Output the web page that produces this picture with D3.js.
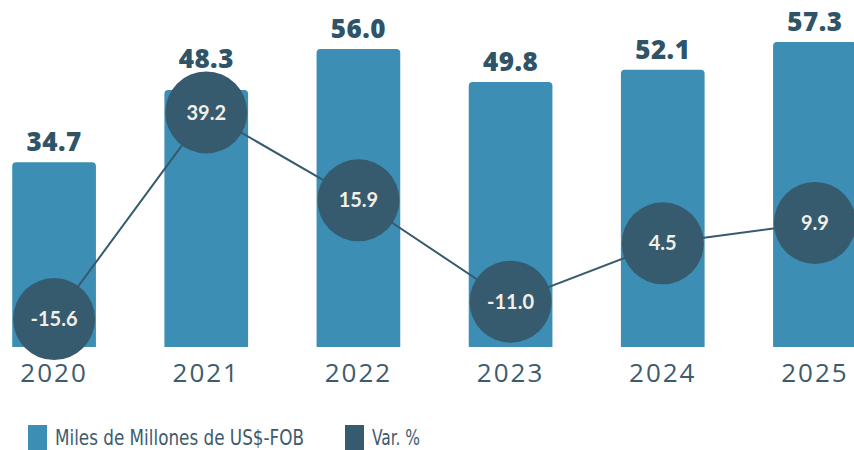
<!DOCTYPE html>
<html>
<head>
<meta charset="utf-8">
<script src="https://cdn.jsdelivr.net/npm/d3@7"></script>
<style>
  html, body { margin: 0; padding: 0; background: #fff; }
  svg { display: block; }
</style>
</head>
<body>
<svg id="chart" width="854" height="450"></svg>
<script>
// Chart data
const years = ['2020', '2021', '2022', '2023', '2024', '2025'];
const exportValues = [34.7, 48.3, 56.0, 49.8, 52.1, 57.3]; // Miles de Millones de US$-FOB
const changePct = [-15.6, 39.2, 15.9, -11.0, 4.5, 9.9]; // Var. %
const legendLabels = ['Miles de Millones de US$-FOB', 'Var. %'];

const barColor = '#3d8eb4';
const dotColor = '#365b6e';
const textColor = '#2f5467';
const axisTextColor = '#3e5b6c';

const width = 854;
const height = 450;
const baseline = 347;
const radius = 41;

const svg = d3.select('#chart').style('font-family', 'Open Sans');

// Scales: bars run off the right edge like in the original export
const x = d3.scaleBand()
  .domain(years)
  .range([-22, 891])
  .paddingInner(0.45)
  .paddingOuter(0.225);

const y = d3.scaleLinear().domain([0, 65.2]).range([baseline, 0]);

// secondary axis for the percentage line
const y2 = d3.scaleLinear().domain([-23, 69]).range([baseline, 0]);

// Bar path with rounded top corners only
function topRoundedBar(x0, y0, w, h, r) {
  const p = d3.path();
  p.moveTo(x0, y0 + h);
  p.lineTo(x0, y0 + r);
  p.arcTo(x0, y0, x0 + r, y0, r);
  p.lineTo(x0 + w - r, y0);
  p.arcTo(x0 + w, y0, x0 + w, y0 + r, r);
  p.lineTo(x0 + w, y0 + h);
  p.closePath();
  return p.toString();
}

const bars = svg.append('g').attr('class', 'bars');

bars.selectAll('path')
  .data(exportValues)
  .join('path')
  .attr('d', (d, i) => topRoundedBar(x(years[i]), y(d), x.bandwidth(), baseline - y(d), 4))
  .attr('fill', barColor);

// Value labels sit above the bar, or above the dot when the dot is in the way
bars.selectAll('text')
  .data(exportValues)
  .join('text')
  .attr('x', (d, i) => x(years[i]) + x.bandwidth() / 2)
  .attr('y', (d, i) => Math.min(y(d) - 11, y2(changePct[i]) - radius - 3))
  .attr('text-anchor', 'middle')
  .attr('font-size', 26)
  .attr('font-weight', 800)
  .attr('letter-spacing', 0.5)
  .attr('fill', textColor)
  .text(d => d.toFixed(1));

// X axis: labels only
const xAxis = svg.append('g')
  .attr('class', 'axis x')
  .attr('transform', `translate(0, ${baseline})`)
  .call(d3.axisBottom(x).tickSize(0).tickPadding(17));

xAxis.select('.domain').remove();
xAxis.selectAll('text')
  .attr('font-family', 'Open Sans')
  .attr('font-size', 26)
  .attr('letter-spacing', 2)
  .attr('fill', axisTextColor);

// Percentage line with big labelled dots
const cx = (d, i) => x(years[i]) + x.bandwidth() / 2;
const line = d3.line().x(cx).y(d => y2(d));

svg.append('path')
  .datum(changePct)
  .attr('fill', 'none')
  .attr('stroke', dotColor)
  .attr('stroke-width', 2)
  .attr('d', line);

const dots = svg.append('g').attr('class', 'dots');

dots.selectAll('circle')
  .data(changePct)
  .join('circle')
  .attr('cx', cx)
  .attr('cy', d => y2(d))
  .attr('r', radius)
  .attr('fill', dotColor);

dots.selectAll('text')
  .data(changePct)
  .join('text')
  .attr('x', cx)
  .attr('y', d => y2(d))
  .attr('dy', '0.36em')
  .attr('text-anchor', 'middle')
  .attr('font-family', 'Lato')
  .attr('font-weight', 700)
  .attr('font-size', 20)
  .attr('fill', '#f2efe8')
  .text(d => d.toFixed(1));

// Legend: condensed face, squeezed a little to the original width
const legendX = [28, 345];
const legendTextWidth = [249, 48];
const legend = svg.append('g').attr('class', 'legend');

legend.selectAll('rect')
  .data(legendLabels)
  .join('rect')
  .attr('x', (d, i) => legendX[i])
  .attr('y', 425)
  .attr('width', 19)
  .attr('height', 25)
  .attr('fill', (d, i) => i === 0 ? barColor : dotColor);

legend.selectAll('text')
  .data(legendLabels)
  .join('text')
  .attr('x', (d, i) => legendX[i] + 27)
  .attr('y', 445)
  .attr('font-family', '"DejaVu Sans Condensed", "Open Sans"')
  .attr('font-size', 21)
  .attr('textLength', (d, i) => legendTextWidth[i])
  .attr('lengthAdjust', 'spacingAndGlyphs')
  .attr('fill', axisTextColor)
  .text(d => d);
</script>
</body>
</html>
